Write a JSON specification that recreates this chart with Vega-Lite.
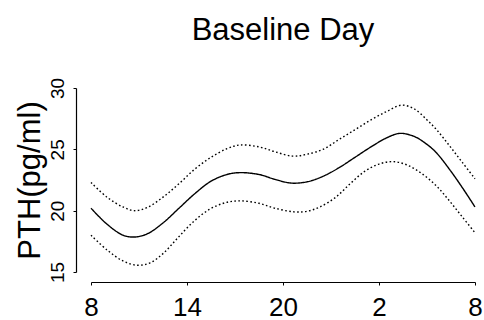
{
  "$schema": "https://vega.github.io/schema/vega-lite/v6.json",
  "autosize": "none",
  "width": 384,
  "height": 184,
  "padding": {"left": 91, "top": 88, "right": 9, "bottom": 48},
  "background": "white",
  "title": {"text": "Baseline Day", "fontSize": 31, "font": "Liberation Sans", "fontWeight": "normal", "color": "black", "anchor": "middle", "offset": 30},
  "config": {"view": {"stroke": null}},
  "data": {"values": [
    {"h": 8, "v": 20.2, "s": "mean"}, {"h": 9, "v": 18.9, "s": "mean"}, {"h": 10, "v": 18.0, "s": "mean"}, {"h": 10.7, "v": 17.85, "s": "mean"}, {"h": 11.5, "v": 18.1, "s": "mean"}, {"h": 12.5, "v": 19.0, "s": "mean"}, {"h": 13.5, "v": 20.2, "s": "mean"}, {"h": 14.5, "v": 21.4, "s": "mean"}, {"h": 15.5, "v": 22.4, "s": "mean"}, {"h": 16.5, "v": 22.95, "s": "mean"}, {"h": 17.3, "v": 23.1, "s": "mean"}, {"h": 18.5, "v": 22.95, "s": "mean"}, {"h": 19.5, "v": 22.55, "s": "mean"}, {"h": 20.5, "v": 22.25, "s": "mean"}, {"h": 21.5, "v": 22.35, "s": "mean"}, {"h": 22.5, "v": 22.8, "s": "mean"}, {"h": 23.5, "v": 23.5, "s": "mean"}, {"h": 24.5, "v": 24.35, "s": "mean"}, {"h": 25.5, "v": 25.2, "s": "mean"}, {"h": 26.5, "v": 25.95, "s": "mean"}, {"h": 27.3, "v": 26.3, "s": "mean"}, {"h": 28.2, "v": 26.05, "s": "mean"}, {"h": 29, "v": 25.4, "s": "mean"}, {"h": 29.6, "v": 24.7, "s": "mean"}, {"h": 30.5, "v": 23.2, "s": "mean"}, {"h": 31.3, "v": 21.7, "s": "mean"}, {"h": 32, "v": 20.3, "s": "mean"},
    {"h": 8, "v": 22.3, "s": "upper"}, {"h": 9, "v": 21.1, "s": "upper"}, {"h": 10, "v": 20.3, "s": "upper"}, {"h": 10.7, "v": 20.0, "s": "upper"}, {"h": 11.5, "v": 20.25, "s": "upper"}, {"h": 12.5, "v": 21.1, "s": "upper"}, {"h": 13.5, "v": 22.2, "s": "upper"}, {"h": 14.5, "v": 23.4, "s": "upper"}, {"h": 15.5, "v": 24.35, "s": "upper"}, {"h": 16.5, "v": 25.05, "s": "upper"}, {"h": 17.3, "v": 25.35, "s": "upper"}, {"h": 18.5, "v": 25.2, "s": "upper"}, {"h": 19.5, "v": 24.8, "s": "upper"}, {"h": 20.6, "v": 24.45, "s": "upper"}, {"h": 21.5, "v": 24.6, "s": "upper"}, {"h": 22.5, "v": 25.0, "s": "upper"}, {"h": 23.5, "v": 25.8, "s": "upper"}, {"h": 24.5, "v": 26.6, "s": "upper"}, {"h": 25.5, "v": 27.4, "s": "upper"}, {"h": 26.5, "v": 28.1, "s": "upper"}, {"h": 27.4, "v": 28.6, "s": "upper"}, {"h": 28.2, "v": 28.3, "s": "upper"}, {"h": 29, "v": 27.4, "s": "upper"}, {"h": 29.6, "v": 26.6, "s": "upper"}, {"h": 30.4, "v": 25.3, "s": "upper"}, {"h": 31.2, "v": 23.95, "s": "upper"}, {"h": 32, "v": 22.6, "s": "upper"},
    {"h": 8, "v": 18.0, "s": "lower"}, {"h": 9, "v": 16.8, "s": "lower"}, {"h": 10, "v": 15.9, "s": "lower"}, {"h": 10.9, "v": 15.55, "s": "lower"}, {"h": 11.7, "v": 15.75, "s": "lower"}, {"h": 12.5, "v": 16.5, "s": "lower"}, {"h": 13.4, "v": 17.75, "s": "lower"}, {"h": 14.4, "v": 19.1, "s": "lower"}, {"h": 15.4, "v": 20.1, "s": "lower"}, {"h": 16.4, "v": 20.65, "s": "lower"}, {"h": 17.3, "v": 20.8, "s": "lower"}, {"h": 18.5, "v": 20.6, "s": "lower"}, {"h": 19.5, "v": 20.2, "s": "lower"}, {"h": 20.7, "v": 19.9, "s": "lower"}, {"h": 21.5, "v": 19.95, "s": "lower"}, {"h": 22.3, "v": 20.3, "s": "lower"}, {"h": 23.3, "v": 21.1, "s": "lower"}, {"h": 24.2, "v": 22.2, "s": "lower"}, {"h": 25.1, "v": 23.2, "s": "lower"}, {"h": 26, "v": 23.8, "s": "lower"}, {"h": 26.9, "v": 24.0, "s": "lower"}, {"h": 27.8, "v": 23.7, "s": "lower"}, {"h": 28.7, "v": 23.0, "s": "lower"}, {"h": 29.6, "v": 22.0, "s": "lower"}, {"h": 30.4, "v": 20.8, "s": "lower"}, {"h": 31.2, "v": 19.5, "s": "lower"}, {"h": 32, "v": 18.2, "s": "lower"}
  ]},
  "mark": {"type": "line", "interpolate": "catmull-rom", "color": "black", "strokeWidth": 1.4},
  "encoding": {
    "x": {"field": "h", "type": "quantitative",
      "scale": {"domain": [8, 32], "nice": false, "zero": false},
      "axis": {"values": [8, 14, 20, 26, 32], "labelExpr": "datum.value % 24", "title": null, "grid": false, "offset": 10,
        "domainColor": "black", "domainWidth": 1.2, "tickColor": "black", "tickSize": 3, "labelPadding": 9,
        "labelFont": "Liberation Sans", "labelFontSize": 26, "labelColor": "black", "labelFlush": false, "labelOverlap": false}},
    "y": {"field": "v", "type": "quantitative",
      "scale": {"domain": [15, 30], "nice": false, "zero": false},
      "axis": {"values": [15, 20, 25, 30], "title": "PTH(pg/ml)", "grid": false, "offset": 15,
        "domainColor": "black", "domainWidth": 1.2, "tickColor": "black", "tickSize": 3,
        "labelAngle": 270, "labelAlign": "center", "labelBaseline": "alphabetic", "labelPadding": 10,
        "labelFont": "Liberation Sans", "labelFontSize": 19, "labelColor": "black", "labelFlush": false, "labelOverlap": false,
        "titleFont": "Liberation Sans", "titleFontSize": 31, "titleFontWeight": "normal", "titleColor": "black", "titlePadding": 2}},
    "detail": {"field": "s"},
    "strokeDash": {"field": "s", "type": "nominal", "legend": null,
      "scale": {"domain": ["mean", "upper", "lower"], "range": [[1, 0], [1.6, 2.4], [1.6, 2.4]]}}
  }
}
